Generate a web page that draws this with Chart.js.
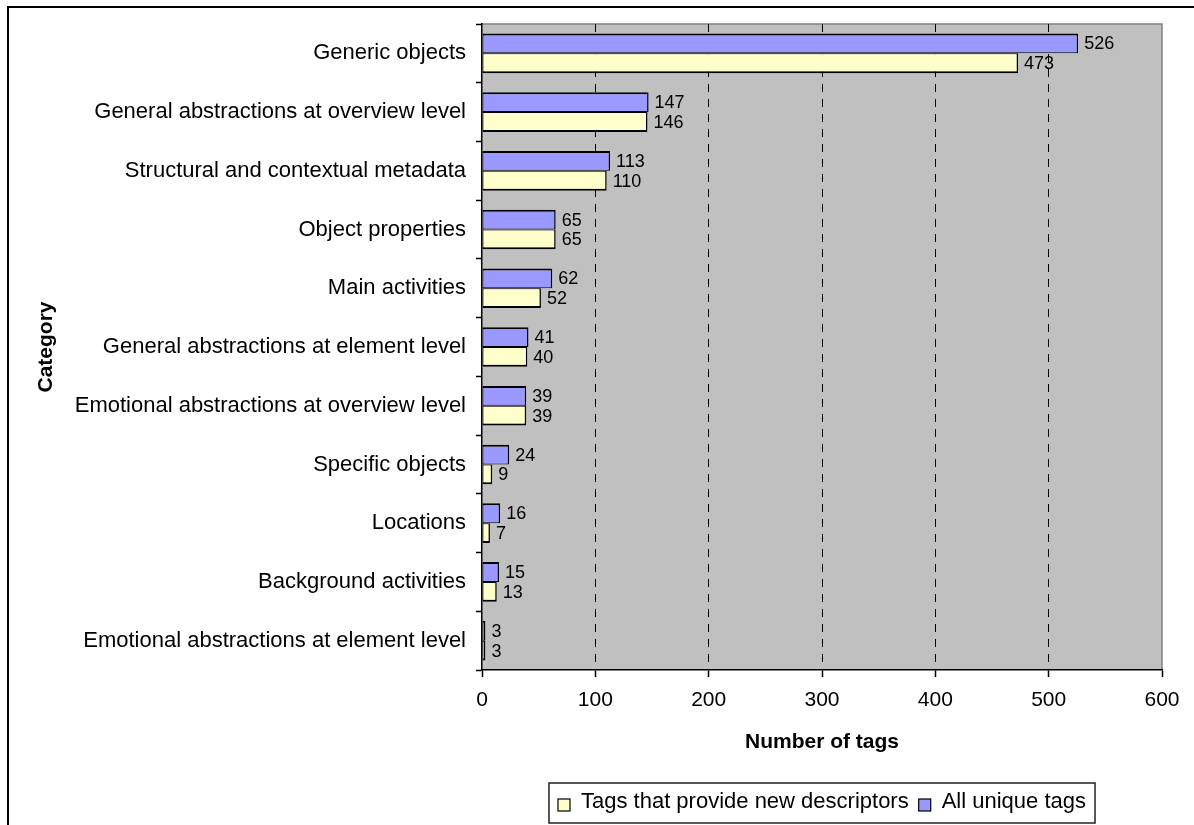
<!DOCTYPE html>
<html>
<head>
<meta charset="utf-8">
<title>Number of tags per category</title>
<script src="https://cdn.jsdelivr.net/npm/chart.js@4/dist/chart.umd.min.js"></script>
<style>
  html, body { margin: 0; padding: 0; background: #ffffff; }
  #wrap { width: 1194px; height: 825px; position: relative; }
</style>
</head>
<body>
<div id="wrap"><canvas id="chart" width="1194" height="825"></canvas></div>
<script>
// Categories, top to bottom
const categories = [
  'Generic objects',
  'General abstractions at overview level',
  'Structural and contextual metadata',
  'Object properties',
  'Main activities',
  'General abstractions at element level',
  'Emotional abstractions at overview level',
  'Specific objects',
  'Locations',
  'Background activities',
  'Emotional abstractions at element level'
];

// Series values
const allUniqueTags = [526, 147, 113, 65, 62, 41, 39, 24, 16, 15, 3];
const newDescriptorTags = [473, 146, 110, 65, 52, 40, 39, 9, 7, 13, 3];

// Series names
const seriesNames = ['All unique tags', 'Tags that provide new descriptors'];

// Value axis ticks
const xTicks = [0, 100, 200, 300, 400, 500, 600];

const FONT = '"Liberation Sans", Arial, Helvetica, sans-serif';
const PURPLE = '#9999FF';
const YELLOW = '#FFFFCC';

// Grey plot area with a thin darker frame on top and right
const plotBackground = {
  id: 'plotBackground',
  beforeDraw(chart) {
    const { ctx, chartArea: a } = chart;
    ctx.save();
    ctx.fillStyle = '#C0C0C0';
    ctx.fillRect(a.left, a.top, a.right - a.left, a.bottom - a.top);
    ctx.strokeStyle = '#808080';
    ctx.lineWidth = 1.5;
    ctx.beginPath();
    ctx.moveTo(a.left, a.top);
    ctx.lineTo(a.right, a.top);
    ctx.lineTo(a.right, a.bottom);
    ctx.stroke();
    ctx.restore();
  }
};

// Value labels at the end of each bar
const valueLabels = {
  id: 'valueLabels',
  afterDatasetsDraw(chart) {
    const { ctx } = chart;
    ctx.save();
    ctx.font = '18px ' + FONT;
    ctx.fillStyle = '#000';
    ctx.textAlign = 'left';
    ctx.textBaseline = 'middle';
    chart.data.datasets.forEach((ds, di) => {
      const meta = chart.getDatasetMeta(di);
      meta.data.forEach((bar, i) => {
        ctx.fillText(String(ds.data[i]), bar.x + 6, bar.y + 1);
      });
    });
    ctx.restore();
  }
};

// Boxed legend centred under the plot area, plus the outer frame
const boxedLegend = {
  id: 'boxedLegend',
  afterDraw(chart) {
    const { ctx, chartArea: a } = chart;
    const items = chart.data.datasets.map(ds => ({
      label: ds.label, fill: ds.backgroundColor
    })).reverse();
    ctx.save();
    ctx.font = '22px ' + FONT;
    const sq = 12, gapSq = 11, gapItem = 10, padX = 9;
    const widths = items.map(it => sq + gapSq + ctx.measureText(it.label).width);
    const total = padX * 2 + widths.reduce((s, w) => s + w, 0) + gapItem * (items.length - 1);
    const cx = (a.left + a.right) / 2;
    const top = a.bottom + 113;
    const h = 40;
    let x = cx - total / 2;
    ctx.fillStyle = '#fff';
    ctx.fillRect(x, top, total, h);
    ctx.strokeStyle = '#222';
    ctx.lineWidth = 1.5;
    ctx.strokeRect(x, top, total, h);
    const cy = top + h / 2 - 1;
    x += padX;
    items.forEach((it, i) => {
      ctx.fillStyle = it.fill;
      ctx.fillRect(x, cy - sq / 2 + 3, sq, sq);
      ctx.strokeStyle = '#000';
      ctx.lineWidth = 1.2;
      ctx.strokeRect(x, cy - sq / 2 + 3, sq, sq);
      ctx.fillStyle = '#000';
      ctx.textAlign = 'left';
      ctx.textBaseline = 'middle';
      ctx.fillText(it.label, x + sq + gapSq, cy);
      x += widths[i] + gapItem;
    });

    // outer frame: top and left edges
    ctx.strokeStyle = '#000';
    ctx.lineWidth = 2;
    ctx.beginPath();
    ctx.moveTo(chart.width, 7);
    ctx.lineTo(8, 7);
    ctx.lineTo(8, chart.height);
    ctx.stroke();
    ctx.restore();
  }
};

new Chart(document.getElementById('chart'), {
  type: 'bar',
  data: {
    labels: categories,
    datasets: [
      {
        label: seriesNames[0],
        data: allUniqueTags,
        backgroundColor: PURPLE,
        borderColor: '#000',
        borderWidth: { top: 2, right: 1.5, bottom: 1, left: 1 },
        borderSkipped: false
      },
      {
        label: seriesNames[1],
        data: newDescriptorTags,
        backgroundColor: YELLOW,
        borderColor: '#000',
        borderWidth: { top: 1, right: 1.5, bottom: 2, left: 1 },
        borderSkipped: false
      }
    ]
  },
  options: {
    indexAxis: 'y',
    responsive: false,
    devicePixelRatio: 1,
    animation: false,
    layout: { padding: { top: 24, right: 32, bottom: 0, left: 0 } },
    datasets: {
      bar: { categoryPercentage: 0.675, barPercentage: 1.0 }
    },
    plugins: {
      legend: { display: false },
      tooltip: { enabled: false },
      title: { display: false }
    },
    scales: {
      x: {
        type: 'linear',
        position: 'bottom',
        min: xTicks[0],
        max: xTicks[xTicks.length - 1],
        afterBuildTicks(scale) {
          scale.ticks = xTicks.map(v => ({ value: v }));
        },
        afterFit(scale) { scale.height = 155; },
        ticks: {
          color: '#000',
          font: { family: FONT, size: 21 },
          padding: 11,
          maxRotation: 0
        },
        grid: {
          color(ctx) {
            const v = ctx.tick && ctx.tick.value;
            return (v === xTicks[0] || v === xTicks[xTicks.length - 1]) ? 'rgba(0,0,0,0)' : '#000';
          },
          lineWidth: 1,
          tickColor: '#000',
          tickLength: 7,
          tickWidth: 1.5,
          tickBorderDash: [],
          drawOnChartArea: true
        },
        border: { display: true, color: '#000', width: 1.5, dash: [8, 7] },
        title: {
          display: true,
          text: 'Number of tags',
          color: '#000',
          font: { family: FONT, size: 21, weight: 'bold' },
          padding: { top: 0, bottom: 70 }
        }
      },
      y: {
        type: 'category',
        position: 'left',
        offset: true,
        afterFit(scale) { scale.width = 482; },
        ticks: {
          color: '#000',
          font: { family: FONT, size: 22 },
          padding: 10,
          autoSkip: false
        },
        grid: {
          offset: true,
          drawOnChartArea: false,
          tickLength: 6,
          tickColor: '#000',
          tickWidth: 1.5
        },
        border: { display: true, color: '#000', width: 1.5 },
        title: {
          display: true,
          text: 'Category',
          color: '#000',
          font: { family: FONT, size: 21, weight: 'bold' },
          padding: { top: 34, bottom: 0 }
        }
      }
    }
  },
  plugins: [plotBackground, valueLabels, boxedLegend]
});
</script>
</body>
</html>
